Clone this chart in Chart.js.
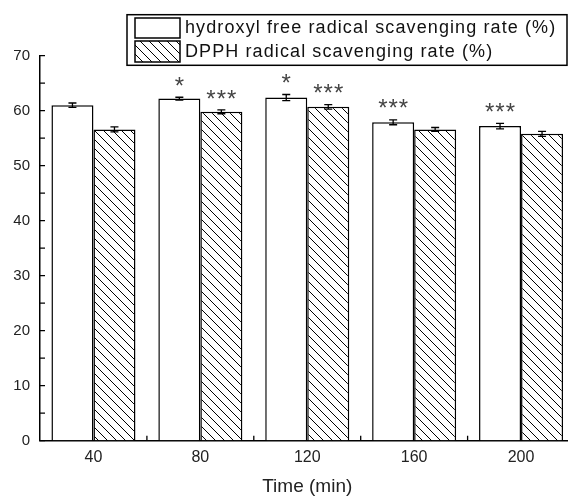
<!DOCTYPE html>
<html><head><meta charset="utf-8">
<script src="https://cdn.jsdelivr.net/npm/chart.js@4/dist/chart.umd.min.js"></script>
<style>
html,body{margin:0;padding:0;background:#fff;overflow:hidden;width:568px;height:496px}
#wrap{position:relative;width:576px;height:496px}
canvas{display:block}
</style></head><body>
<div id="wrap"><canvas id="c" width="576" height="496"></canvas></div>
<script>
const categories = ['40', '80', '120', '160', '200'];
const seriesLabels = ['hydroxyl free radical scavenging rate (%)', 'DPPH radical scavenging rate (%)'];
const hydroxylValues = [61.0, 62.2, 62.4, 57.9, 57.2];
const hydroxylErrors = [0.4, 0.25, 0.55, 0.45, 0.5];
const dpphValues = [56.6, 59.8, 60.7, 56.6, 55.8];
const dpphErrors = [0.45, 0.35, 0.4, 0.35, 0.45];
const hydroxylSig = ['', '*', '*', '***', '***'];
const dpphSig = ['', '***', '***', '', ''];
const yTicks = [0, 10, 20, 30, 40, 50, 60, 70];
const axisTitle = 'Time (min)';

const FONT = '"Liberation Sans", Arial, sans-serif';
const canvas = document.getElementById('c');
const mainCtx = canvas.getContext('2d');

function makeHatch() {
  const s = 9;
  const c = document.createElement('canvas');
  c.width = s; c.height = s;
  const g = c.getContext('2d');
  g.fillStyle = '#fff'; g.fillRect(0, 0, s, s);
  g.strokeStyle = '#000'; g.lineWidth = 1;
  for (const k of [-s, 0, s]) {
    g.beginPath(); g.moveTo(k, 0); g.lineTo(k + s, s); g.stroke();
  }
  return mainCtx.createPattern(c, 'repeat');
}
const hatch = makeHatch();
const fills = ['#ffffff', hatch];

const deco = {
  id: 'deco',
  afterDatasetsDraw(chart) {
    const ctx = chart.ctx, xs = chart.scales.x, ys = chart.scales.y, area = chart.chartArea;
    ctx.save();
    ctx.strokeStyle = '#000'; ctx.lineWidth = 1.3;
    ctx.beginPath();
    for (let i = 0; i < yTicks.length; i++) {
      const v = yTicks[i];
      const y = ys.getPixelForValue(v);
      ctx.moveTo(area.left, y); ctx.lineTo(area.left + 5, y);
      if (i < yTicks.length - 1) {
        const ym = ys.getPixelForValue((v + yTicks[i + 1]) / 2);
        ctx.moveTo(area.left, ym); ctx.lineTo(area.left + 5, ym);
      }
    }
    for (let i = 0; i < categories.length - 1; i++) {
      const x = (xs.getPixelForTick(i) + xs.getPixelForTick(i + 1)) / 2;
      ctx.moveTo(x, area.bottom); ctx.lineTo(x, area.bottom - 5);
    }
    ctx.stroke();
    const errs = [hydroxylErrors, dpphErrors], sigs = [hydroxylSig, dpphSig];
    chart.data.datasets.forEach((ds, di) => {
      const meta = chart.getDatasetMeta(di);
      meta.data.forEach((bar, i) => {
        const v = ds.data[i], e = errs[di][i];
        const yt = ys.getPixelForValue(v + e), yb = ys.getPixelForValue(v - e), x = bar.x;
        ctx.strokeStyle = '#000'; ctx.lineWidth = 1.3;
        ctx.beginPath();
        ctx.moveTo(x, yt); ctx.lineTo(x, yb);
        ctx.moveTo(x - 4, yt); ctx.lineTo(x + 4, yt);
        ctx.moveTo(x - 4, yb); ctx.lineTo(x + 4, yb);
        ctx.stroke();
        const s = sigs[di][i];
        if (s) {
          ctx.fillStyle = '#444';
          ctx.font = '24px ' + FONT;
          ctx.letterSpacing = '1px';
          ctx.textAlign = 'center'; ctx.textBaseline = 'alphabetic';
          ctx.fillText(s, x + 0.5, yt - 3.3);
          ctx.letterSpacing = '0px';
        }
      });
    });
    ctx.restore();
  },
  afterDraw(chart) {
    const ctx = chart.ctx;
    ctx.save();
    ctx.fillStyle = '#fff';
    ctx.fillRect(127, 14.7, 440, 50.6);
    ctx.strokeStyle = '#000'; ctx.lineWidth = 1.5;
    ctx.strokeRect(127, 14.7, 440, 50.6);
    const rows = [{y: 18, h: 20, base: 33}, {y: 41, h: 21, base: 57}];
    chart.data.datasets.forEach((ds, di) => {
      const r = rows[di];
      ctx.fillStyle = fills[di];
      ctx.fillRect(135, r.y, 45, r.h);
      ctx.lineWidth = 1.5; ctx.strokeStyle = '#000';
      ctx.strokeRect(135, r.y, 45, r.h);
      ctx.fillStyle = '#111';
      ctx.font = '18px ' + FONT;
      ctx.letterSpacing = '1.1px';
      ctx.textAlign = 'left'; ctx.textBaseline = 'alphabetic';
      ctx.fillText(ds.label, 185, r.base);
    });
    ctx.restore();
  }
};

new Chart(canvas, {
  type: 'bar',
  data: {
    labels: categories,
    datasets: [
      {label: seriesLabels[0], data: hydroxylValues, backgroundColor: fills[0], borderColor: '#000', borderWidth: 1.5},
      {label: seriesLabels[1], data: dpphValues, backgroundColor: fills[1], borderColor: '#000', borderWidth: 1.5}
    ]
  },
  options: {
    responsive: false,
    animation: false,
    devicePixelRatio: 1,
    categoryPercentage: 0.786,
    barPercentage: 1.0,
    layout: {padding: {top: 55.7, right: 1.5, left: 0, bottom: 0}},
    plugins: {legend: {display: false}, tooltip: {enabled: false}},
    events: [],
    scales: {
      x: {
        type: 'category', offset: true,
        grid: {color: 'rgba(0,0,0,0)', drawTicks: false},
        border: {display: true, color: '#000', width: 1.5},
        ticks: {color: '#222', font: {family: FONT, size: 16}, padding: 7, maxRotation: 0},
        title: {display: true, text: axisTitle, color: '#222', font: {family: FONT, size: 19, lineHeight: 1}, padding: {top: 0, bottom: 0}},
        afterFit(s) { s.height = 55.3; }
      },
      y: {
        min: 0, max: 70,
        afterBuildTicks(s) { s.ticks = yTicks.map(v => ({value: v})); },
        grid: {color: 'rgba(0,0,0,0)', drawTicks: false},
        border: {display: true, color: '#000', width: 1.5},
        ticks: {color: '#222', font: {family: FONT, size: 15}, padding: 10},
        afterFit(s) { s.width = 40; }
      }
    }
  },
  plugins: [deco]
});
</script>
</body></html>
